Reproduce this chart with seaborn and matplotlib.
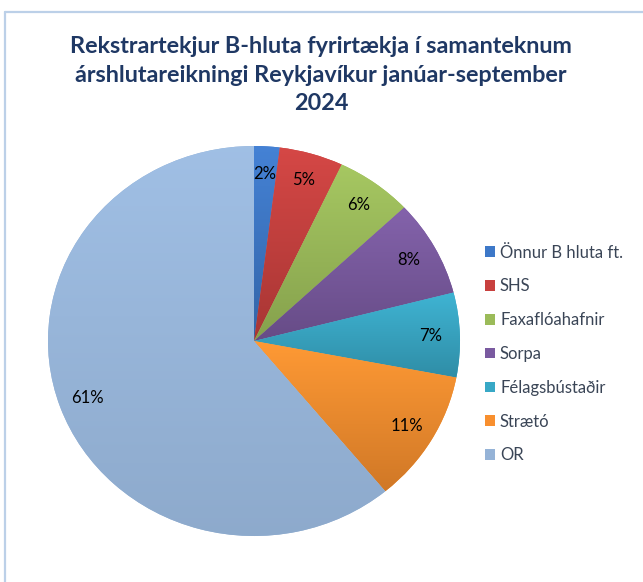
import numpy as np
import matplotlib
matplotlib.use('Agg')
import matplotlib.pyplot as plt
import seaborn as sns
from matplotlib.patches import Patch
from matplotlib.lines import Line2D
from matplotlib.colors import to_rgb

categories = ['Önnur B hluta ft.', 'SHS', 'Faxaflóahafnir', 'Sorpa',
              'Félagsbústaðir', 'Strætó', 'OR']
shares = [2, 5, 6, 8, 7, 11, 61]
colors = ['#3D78C8', '#C8403E', '#9BBB59', '#7A5AA0', '#38A8C6', '#F88F2E', '#95B3D7']
shade = [0.84, 0.84, 0.86, 0.84, 0.84, 0.84, 0.95]
title = ('Rekstrartekjur B-hluta fyrirtækja í samanteknum\n'
         'árshlutareikningi Reykjavíkur janúar-september\n2024')

sns.set_theme(style='white')
plt.rcParams['font.family'] = ['Lato', 'DejaVu Sans']

fig = plt.figure(figsize=(6.43, 5.82), dpi=100)
fig.patch.set_facecolor('white')
ax = fig.add_axes([48/643, 46/582, 412/643, 390/582])
wedges, texts, autotexts = ax.pie(
    shares, colors=colors, startangle=90, counterclock=False,
    autopct='%1.0f%%', pctdistance=0.86,
    wedgeprops=dict(linewidth=0),
    textprops=dict(fontsize=12, color='black'))

# vertical gradient fill per wedge (lighter top, darker bottom)
for w, c, s in zip(wedges, colors, shade):
    t1, t2 = np.deg2rad(w.theta1), np.deg2rad(w.theta2)
    th = np.linspace(t1, t2, 200)
    xs = np.concatenate([[0], np.cos(th)])
    ys = np.concatenate([[0], np.sin(th)])
    rgb = np.array(to_rgb(c))
    top = np.clip(rgb * 1.04 + 0.02, 0, 1)
    bot = rgb * s
    n = 256
    f = np.linspace(0, 1, n)[:, None]
    grad = (top[None, :] * (1 - f) + bot[None, :] * f)[:, None, :]
    im = ax.imshow(grad, extent=[xs.min(), xs.max(), ys.min(), ys.max()],
                   origin='upper', aspect='auto', zorder=1.5, interpolation='bilinear')
    im.set_clip_path(w)
ax.set_xlim(-1, 1)
ax.set_ylim(-1, 1)
ax.set_aspect('auto')
for t in autotexts:
    t.set_zorder(3)

# frame border (left and top)
fig.add_artist(Line2D([5/643, 5/643], [0, 1 - 12/582], color='#BCD0E8', lw=1.6))
fig.add_artist(Line2D([5/643, 1], [1 - 12/582, 1 - 12/582], color='#BCD0E8', lw=1.6))

fig.text(321/643, 1 - 75/582, title, ha='center', va='center', fontsize=16.8,
         fontweight='bold', color='#1F3864', linespacing=1.42)

handles = [Patch(facecolor=c, edgecolor='none') for c in colors]
fig.legend(handles, categories, loc='center left',
           bbox_to_anchor=(470/643, 1 - 354/582), frameon=False, fontsize=12,
           labelspacing=1.07, handlelength=0.6, handleheight=0.6,
           handletextpad=0.3, labelcolor='#3A4556')

fig.savefig('out.png', dpi=100)
